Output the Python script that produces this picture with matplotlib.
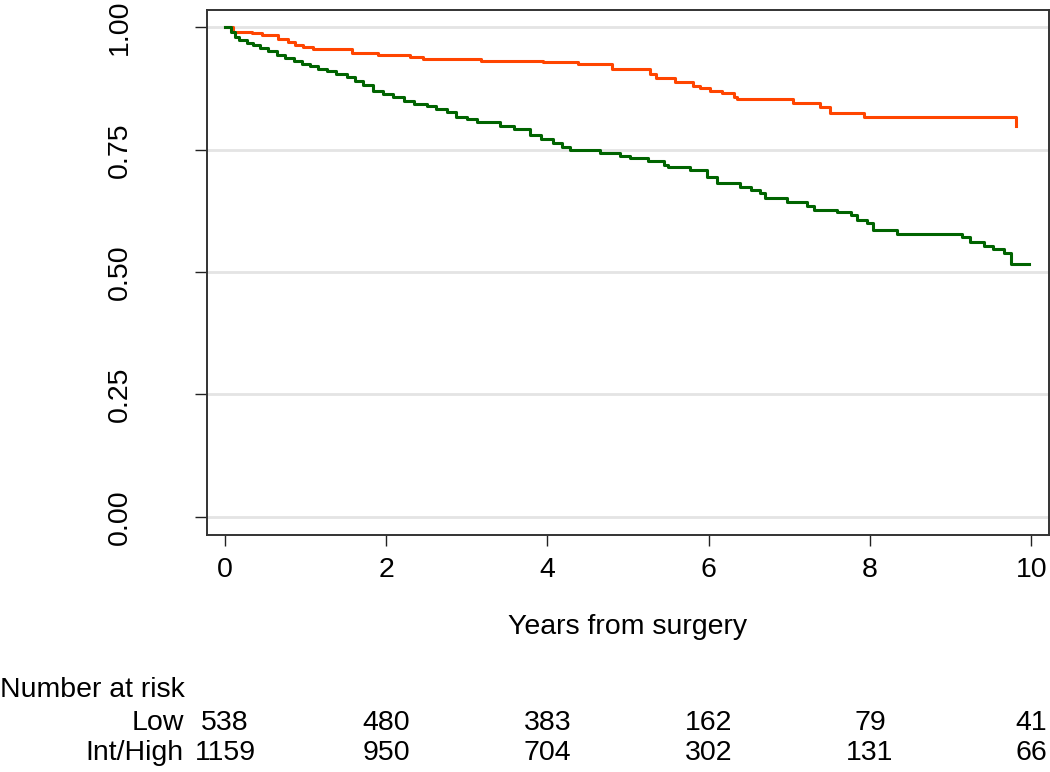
import matplotlib
matplotlib.use("Agg")
import matplotlib.pyplot as plt
import matplotlib.transforms as mtransforms

plt.rcParams['font.family'] = ['Liberation Sans', 'DejaVu Sans']

# Kaplan-Meier step data (time in years, survival)
low_t = [0.0, 0.10, 0.33, 0.455, 0.66, 0.78, 0.87, 0.97, 1.09, 1.57, 1.90, 2.30, 2.46,
         3.18, 3.95, 4.38, 4.80, 5.27, 5.34, 5.58, 5.81, 5.89, 6.02, 6.16, 6.31, 6.35,
         7.05, 7.38, 7.51, 7.93, 9.81, 9.81]
low_s = [1.000, 0.990, 0.988, 0.984, 0.976, 0.971, 0.964, 0.961, 0.956, 0.948, 0.944, 0.940, 0.935,
         0.932, 0.930, 0.925, 0.916, 0.905, 0.896, 0.889, 0.880, 0.876, 0.871, 0.865, 0.858, 0.854,
         0.845, 0.837, 0.826, 0.817, 0.817, 0.798]

high_t = [0.0, 0.08, 0.12, 0.17, 0.27, 0.35, 0.43, 0.53, 0.64, 0.75, 0.85, 0.95, 1.05, 1.15, 1.26,
          1.38, 1.51, 1.61, 1.71, 1.84, 1.96, 2.09, 2.22, 2.34, 2.50, 2.62, 2.75, 2.87, 3.00,
          3.12, 3.41, 3.58, 3.78, 3.92, 4.07, 4.18, 4.28, 4.65, 4.90, 5.02, 5.25, 5.44, 5.49,
          5.77, 5.98, 6.10, 6.39, 6.52, 6.64, 6.70, 6.97, 7.22, 7.30, 7.59, 7.77, 7.84, 7.96,
          8.04, 8.33, 9.14, 9.24, 9.41, 9.53, 9.66, 9.75, 9.97]
high_s = [1.000, 0.990, 0.980, 0.974, 0.969, 0.964, 0.958, 0.951, 0.944, 0.937, 0.931, 0.926, 0.921,
          0.916, 0.911, 0.905, 0.899, 0.891, 0.882, 0.871, 0.864, 0.857, 0.850, 0.843, 0.839,
          0.834, 0.828, 0.816, 0.812, 0.807, 0.798, 0.792, 0.780, 0.771, 0.763, 0.756, 0.749,
          0.743, 0.737, 0.734, 0.727, 0.719, 0.714, 0.709, 0.695, 0.683, 0.674, 0.668, 0.661,
          0.652, 0.644, 0.634, 0.627, 0.622, 0.617, 0.606, 0.600, 0.585, 0.578, 0.571, 0.562,
          0.553, 0.547, 0.538, 0.516, 0.516]

risk_times = [0, 2, 4, 6, 8, 10]
risk_low = [538, 480, 383, 162, 79, 41]
risk_high = [1159, 950, 704, 302, 131, 66]
group_labels = ["Low", "Int/High"]

x_ticks = [0, 2, 4, 6, 8, 10]
y_ticks = [0.0, 0.25, 0.5, 0.75, 1.0]
y_ticklabels = ["0.00", "0.25", "0.50", "0.75", "1.00"]

FS = 20.5
W, H = 1050, 772
fig = plt.figure(figsize=(W / 100, H / 100), dpi=100)
ax = fig.add_axes([207 / W, 1 - 535 / H, (1049 - 207) / W, (535 - 10) / H])

ax.set_xlim(-0.223, 10.22)
ax.set_ylim(-0.0374, 1.0356)

for y in y_ticks:
    ax.axhline(y, color="#e4e4e4", lw=2.0, zorder=0)

ax.step(low_t, low_s, where="post", color="#FF4500", lw=2.2, zorder=3)
ax.step(high_t, high_s, where="post", color="#006400", lw=2.2, zorder=3)

ax.set_xticks(x_ticks)
ax.set_xticklabels([str(v) for v in x_ticks])
ax.set_yticks(y_ticks)
ax.set_yticklabels(y_ticklabels, rotation=90, va="center")

ax.tick_params(axis="x", length=8, width=1.0, color="#222222", labelsize=FS, pad=8)
ax.tick_params(axis="y", length=8.5, width=1.0, color="#222222", labelsize=FS, pad=45)

for sp in ax.spines.values():
    sp.set_color("#333333")
    sp.set_linewidth(1.4)

fig.text(628 / W, 1 - 627 / H, "Years from surgery", ha="center", va="center", fontsize=FS)

fig.text(0 / W, 1 - 690 / H, "Number at risk", ha="left", va="center", fontsize=FS)
trans = mtransforms.blended_transform_factory(ax.transData, fig.transFigure)
rows_y = [1 - 723 / H, 1 - 753 / H]
for lab, counts, yy in zip(group_labels, [risk_low, risk_high], rows_y):
    fig.text(184 / W, yy, lab, ha="right", va="center", fontsize=FS)
    for t, c in zip(risk_times, counts):
        ax.text(t, yy, str(c), transform=trans, ha="center", va="center", fontsize=FS, clip_on=False)

fig.savefig("out.png", dpi=100)
